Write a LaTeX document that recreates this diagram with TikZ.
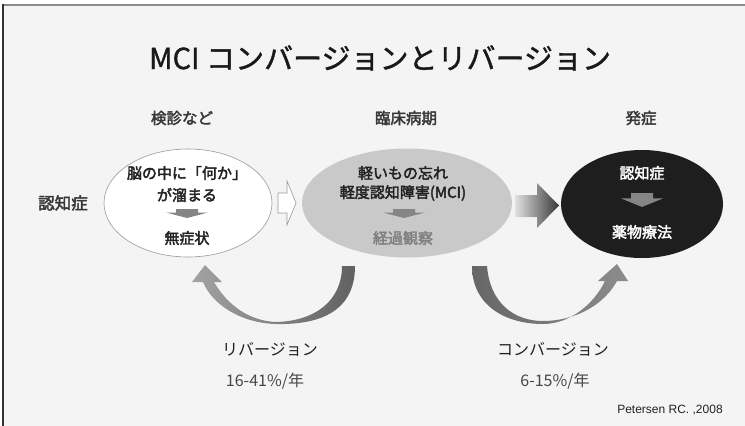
\documentclass[tikz,border=0pt]{standalone}
\usepackage{fontspec}
\setmainfont{Noto Sans CJK JP}
\newfontfamily\jpmid[FakeBold=2.6]{Noto Sans CJK JP}
\newfontfamily\jptitle[FakeBold=1.2]{Noto Sans CJK JP}
\newfontfamily\latfont{Liberation Sans}
\usetikzlibrary{shapes.geometric}
\definecolor{bg}{HTML}{F4F4F4}
\definecolor{txt}{HTML}{222222}
\definecolor{arrgray}{HTML}{858585}
\definecolor{midgray}{HTML}{C9C9C9}
\definecolor{darkfill}{HTML}{1E1E1E}
\tikzset{
  ell/.style={ellipse, inner sep=0pt},
  lbl/.style={inner sep=0pt, text=txt, font=\jpmid\fontsize{15}{18}\selectfont},
  hdlbl/.style={inner sep=0pt, text=txt!90, font=\jpmid\fontsize{15.5}{18}\selectfont},
  caplbl/.style={inner sep=0pt, text=txt, font=\fontsize{16}{19}\selectfont},
  ratelbl/.style={inner sep=0pt, text=black!72, font=\fontsize{16}{19}\selectfont},
  downarr/.pic={\fill[arrgray] (-11,0) rectangle (11,3.5) (-21,3.5) -- (21,3.5) -- (0,9) -- cycle;}
}
\begin{document}
\begin{tikzpicture}[x=1pt,y=-1pt]
\useasboundingbox (0,0) rectangle (745,426);
\fill[white] (0,0) rectangle (745,426);
\fill[bg] (3,5) rectangle (745,426);
\draw[line width=2pt, black!45] (2,5) -- (745,5);
\draw[line width=2pt, black!80] (3,4) -- (3,426);

\node[inner sep=0pt, text=black!90, font=\jptitle\fontsize{29}{32}\selectfont] (title) at (380,58) {MCI コンバージョンとリバージョン};

\node[hdlbl] (h1) at (182,118) {検診など};
\node[hdlbl] (h2) at (406,118) {臨床病期};
\node[hdlbl] (h3) at (641,118) {発症};
\node[hdlbl, font=\jpmid\fontsize{16.5}{19}\selectfont] (side) at (63,203) {認知症};

% ellipses
\node[ell, draw=black!40, line width=0.6pt, fill=white, minimum width=168pt, minimum height=108pt] (e1) at (188,203) {};
\node[ell, fill=midgray, minimum width=210pt, minimum height=109pt] (e2) at (407,203) {};
\node[ell, fill=darkfill, minimum width=162pt, minimum height=108pt] (e3) at (642,204) {};

% ellipse 1 text
\node[lbl] (t1a) at (187,173) {脳の中に「何か」};
\node[lbl] (t1b) at (187,195) {が溜まる};
\pic at (187,209) {downarr};
\node[lbl] (t1c) at (187,238) {無症状};

% ellipse 2 text
\node[lbl] (t2a) at (403,173) {軽いもの忘れ};
\node[lbl] (t2b) at (403,193) {軽度認知障害(MCI)};
\pic at (404,209) {downarr};
\node[lbl, text=black!50] (t2c) at (403,238) {経過観察};

% ellipse 3 text
\node[lbl, text=white] (t3a) at (642,173) {認知症};
\node[lbl, text=white] (t3b) at (642,232) {薬物療法};
\pic[yscale=1.55] at (642,193) {downarr};

% outline arrow e1 -> e2
\draw[black!40, fill=white, line width=0.6pt]
  (278,193) -- (287,193) -- (287,181) -- (296,203) -- (287,225) -- (287,213) -- (278,213) -- cycle;

% gradient arrow e2 -> e3
\shade[left color=black!12, right color=black!78]
  (515,195) -- (537,195) -- (537,183) -- (559,205.5) -- (537,228) -- (537,217) -- (515,217) -- cycle;

% reversion arrow (curved, e2 -> e1)
\coordinate (rvA) at (342,266);
\coordinate (rvB) at (355,266);
\shade[left color=black!36, right color=black!62]
  (rvA) -- (rvB) .. controls (355,310) and (322,325) .. (276,324)
  .. controls (240,323) and (212,304) .. (203,282)
  -- (192,282) -- (205,265) -- (222,282) -- (214,282)
  .. controls (228,306) and (250,321) .. (276,322)
  .. controls (316,321) and (342,300) .. (rvA) -- cycle;

% conversion arrow (curved, e2 -> e3)
\coordinate (cvA) at (472,266);
\coordinate (cvB) at (487,266);
\shade[left color=black!60, right color=black!45]
  (cvA) -- (cvB) .. controls (490,304) and (515,321) .. (543,321)
  .. controls (575,321) and (604,305) .. (617,281)
  -- (628,281) -- (617,264) -- (598,281) -- (605,281)
  .. controls (594,304) and (570,324) .. (543,324)
  .. controls (505,324) and (472,305) .. (cvA) -- cycle;

\node[caplbl] (rev) at (270,349) {リバージョン};
\node[ratelbl] (revr) at (265,381) {16-41\%/年};
\node[caplbl] (con) at (553,349) {コンバージョン};
\node[ratelbl] (conr) at (555,381) {6-15\%/年};

\node[inner sep=0pt, text=txt, font=\latfont\fontsize{12}{14}\selectfont] (ref) at (670,410) {Petersen RC. ,2008};
\end{tikzpicture}
\end{document}
